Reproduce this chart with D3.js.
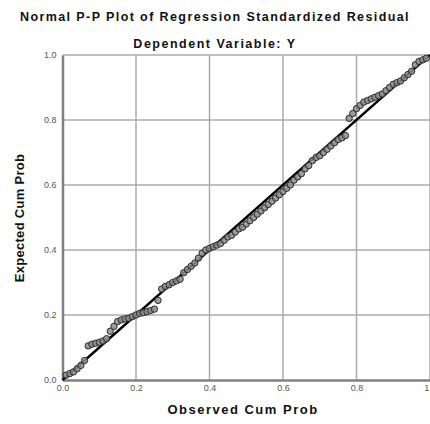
<!DOCTYPE html>
<html>
<head>
<meta charset="utf-8">
<script src="https://cdn.jsdelivr.net/npm/d3@7"></script>
<style>
  body { margin: 0; background: #fff; }
  svg { display: block; font-family: "Liberation Sans", Arial, sans-serif; }
</style>
</head>
<body>
<div id="graph"></div>
<script>
// observed vs expected cumulative probabilities
const observed = [0.01, 0.02, 0.03, 0.04, 0.05, 0.06, 0.07, 0.08, 0.09, 0.10,
  0.11, 0.12, 0.13, 0.14, 0.15, 0.16, 0.17, 0.18, 0.19, 0.20,
  0.21, 0.22, 0.23, 0.24, 0.25, 0.26, 0.27, 0.28, 0.29, 0.30,
  0.31, 0.32, 0.33, 0.34, 0.35, 0.36, 0.37, 0.38, 0.39, 0.40,
  0.41, 0.42, 0.43, 0.44, 0.45, 0.46, 0.47, 0.48, 0.49, 0.50,
  0.51, 0.52, 0.53, 0.54, 0.55, 0.56, 0.57, 0.58, 0.59, 0.60,
  0.61, 0.62, 0.63, 0.64, 0.65, 0.66, 0.67, 0.68, 0.69, 0.70,
  0.71, 0.72, 0.73, 0.74, 0.75, 0.76, 0.77, 0.78, 0.79, 0.80,
  0.81, 0.82, 0.83, 0.84, 0.85, 0.86, 0.87, 0.88, 0.89, 0.90,
  0.91, 0.92, 0.93, 0.94, 0.95, 0.96, 0.97, 0.98, 0.99];
const expected = [0.015, 0.02, 0.025, 0.035, 0.045, 0.06, 0.105, 0.11, 0.113, 0.116,
  0.12, 0.127, 0.15, 0.165, 0.18, 0.185, 0.188, 0.19, 0.195, 0.20,
  0.205, 0.207, 0.21, 0.214, 0.218, 0.245, 0.28, 0.288, 0.293, 0.30,
  0.305, 0.31, 0.33, 0.34, 0.35, 0.36, 0.375, 0.39, 0.40, 0.405,
  0.41, 0.415, 0.42, 0.43, 0.44, 0.445, 0.455, 0.465, 0.47, 0.48,
  0.49, 0.50, 0.51, 0.52, 0.53, 0.54, 0.55, 0.56, 0.57, 0.58,
  0.59, 0.60, 0.615, 0.625, 0.635, 0.65, 0.66, 0.675, 0.685, 0.69,
  0.70, 0.71, 0.72, 0.73, 0.74, 0.745, 0.752, 0.805, 0.82, 0.835,
  0.845, 0.855, 0.86, 0.865, 0.87, 0.875, 0.88, 0.89, 0.90, 0.91,
  0.915, 0.92, 0.93, 0.94, 0.95, 0.97, 0.98, 0.985, 0.99];
const ticks = [0.0, 0.2, 0.4, 0.6, 0.8, 1.0];
const title = "Normal P-P Plot of Regression Standardized Residual";
const subtitle = "Dependent Variable: Y";
const xLabel = "Observed Cum Prob";
const yLabel = "Expected Cum Prob";

const w = 430;
const h = 424;
const plotLeft = 62.5, plotRight = 430, plotTop = 55, plotBottom = 380;

const xScale = d3.scaleLinear().domain([0, 1]).range([plotLeft, plotRight]);
const yScale = d3.scaleLinear().domain([0, 1]).range([plotBottom, plotTop]);

const svg = d3.select("#graph")
              .append("svg")
              .attr("width", w)
              .attr("height", h);

// gridlines
svg.append("g")
   .selectAll("line")
   .data(ticks.slice(1))
   .enter()
   .append("line")
   .attr("x1", plotLeft).attr("x2", plotRight)
   .attr("y1", (d) => yScale(d)).attr("y2", (d) => yScale(d))
   .attr("stroke", "#ababab").attr("stroke-width", 1.5);

svg.append("g")
   .selectAll("line")
   .data(ticks.slice(1))
   .enter()
   .append("line")
   .attr("y1", plotTop).attr("y2", plotBottom)
   .attr("x1", (d) => xScale(d)).attr("x2", (d) => xScale(d))
   .attr("stroke", "#ababab").attr("stroke-width", 1.5);

// axes
const xAxis = d3.axisBottom(xScale).tickValues(ticks).tickSize(0).tickPadding(5).tickFormat(d3.format(".1f"));
const yAxis = d3.axisLeft(yScale).tickValues(ticks).tickSize(0).tickPadding(6).tickFormat(d3.format(".1f"));

svg.append("g")
   .attr("transform", "translate(0, " + plotBottom + ")")
   .call(xAxis)
   .call((g) => g.select(".domain").attr("stroke", "#808080").attr("stroke-width", 2.5))
   .call((g) => g.selectAll("text").attr("fill", "#555").attr("font-size", 9));

svg.append("g")
   .attr("transform", "translate(" + plotLeft + ", 0)")
   .call(yAxis)
   .call((g) => g.select(".domain").attr("stroke", "#808080").attr("stroke-width", 2.5))
   .call((g) => g.selectAll("text").attr("fill", "#555").attr("font-size", 9));

// reference line
svg.append("line")
   .attr("x1", xScale(0)).attr("y1", yScale(0))
   .attr("x2", xScale(1)).attr("y2", yScale(1))
   .attr("stroke", "#000").attr("stroke-width", 2.4);

// points
svg.append("g")
   .selectAll("circle")
   .data(observed)
   .enter()
   .append("circle")
   .attr("cx", (d) => xScale(d))
   .attr("cy", (d, i) => yScale(expected[i]))
   .attr("r", 3.2)
   .attr("fill", "#8c8c8c")
   .attr("fill-opacity", 0.85)
   .attr("stroke", "#2a2a2a")
   .attr("stroke-width", 1);

// titles
svg.append("text").attr("x", 215).attr("y", 21).attr("text-anchor", "middle")
   .attr("font-size", 12.5).attr("font-weight", "bold").attr("letter-spacing", 1.4)
   .attr("fill", "#111").text(title);
svg.append("text").attr("x", 215).attr("y", 48).attr("text-anchor", "middle")
   .attr("font-size", 12.5).attr("font-weight", "bold").attr("letter-spacing", 1.5)
   .attr("fill", "#111").text(subtitle);
svg.append("text").attr("x", 243).attr("y", 414).attr("text-anchor", "middle")
   .attr("font-size", 13).attr("font-weight", "bold").attr("letter-spacing", 1.5)
   .attr("fill", "#111").text(xLabel);
svg.append("text").attr("transform", "translate(24, 218) rotate(-90)").attr("text-anchor", "middle")
   .attr("font-size", 13).attr("font-weight", "bold").attr("letter-spacing", 0.3)
   .attr("fill", "#111").text(yLabel);
</script>
</body>
</html>
